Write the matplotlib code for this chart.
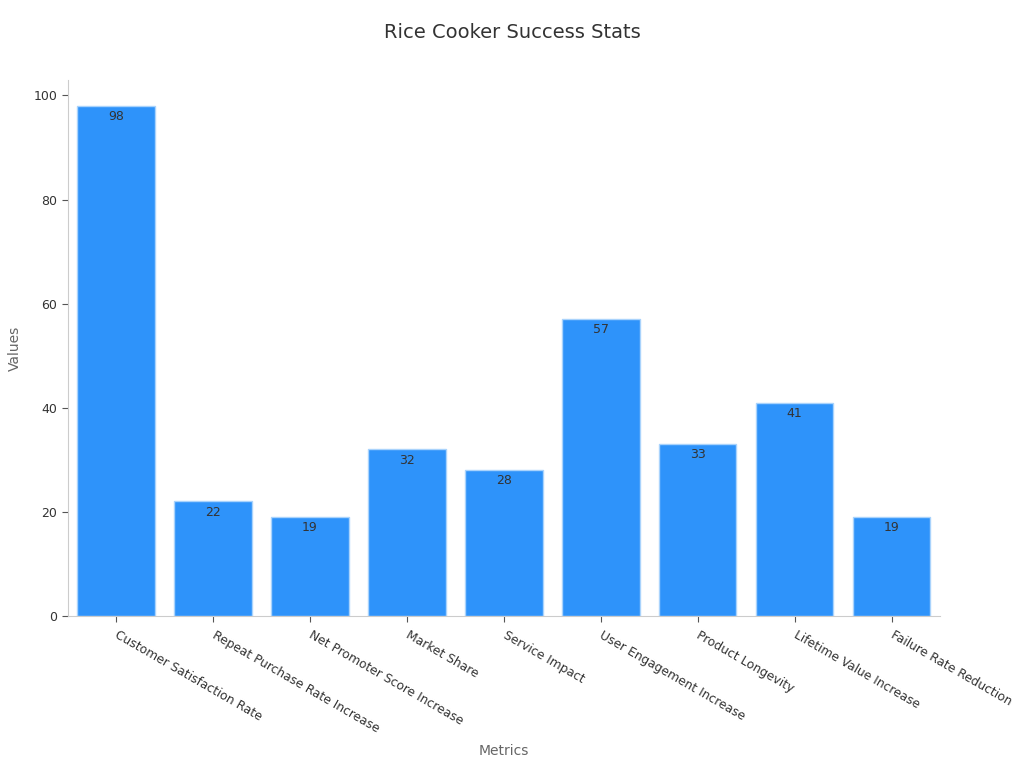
import numpy as np
import matplotlib.pyplot as plt

categories = ["Customer Satisfaction Rate", "Repeat Purchase Rate Increase",
              "Net Promoter Score Increase", "Market Share", "Service Impact",
              "User Engagement Increase", "Product Longevity",
              "Lifetime Value Increase", "Failure Rate Reduction"]
values = [98, 22, 19, 32, 28, 57, 33, 41, 19]

fig = plt.figure(figsize=(10.24, 7.68), dpi=100)
ax = fig.add_axes([0.066, 0.198, 0.852, 0.698])

x = np.arange(len(categories))
bars = ax.bar(x, values, width=0.8, color="#2E93FA", edgecolor="#A9D3FC", linewidth=1)

for b, v in zip(bars, values):
    ax.text(b.get_x() + b.get_width() / 2, v - 0.8, str(v), ha="center", va="top",
            fontsize=9, color="#333333")

ax.set_xlim(-0.5, 8.5)
ax.set_ylim(0, 103)
ax.set_yticks([0, 20, 40, 60, 80, 100])
ax.set_xticks(x)
ax.set_xticklabels(categories, rotation=-30, ha="left", va="center",
                   rotation_mode="anchor", fontsize=8.8, color="#333333")
ax.tick_params(axis="y", labelsize=9, labelcolor="#333333", color="#555555", length=4)
ax.tick_params(axis="x", color="#555555", length=4, pad=9)

for s in ["top", "right"]:
    ax.spines[s].set_visible(False)
for s in ["left", "bottom"]:
    ax.spines[s].set_color("#CCCCCC")

ax.set_xlabel("Metrics", fontsize=10, color="#666666")
ax.xaxis.set_label_coords(0.5, -0.238)
ax.set_ylabel("Values", fontsize=10, color="#666666")
ax.yaxis.set_label_coords(-0.052, 0.5)
fig.suptitle("Rice Cooker Success Stats", fontsize=14, color="#333333", y=0.97)

fig.savefig("out.png", dpi=100)
